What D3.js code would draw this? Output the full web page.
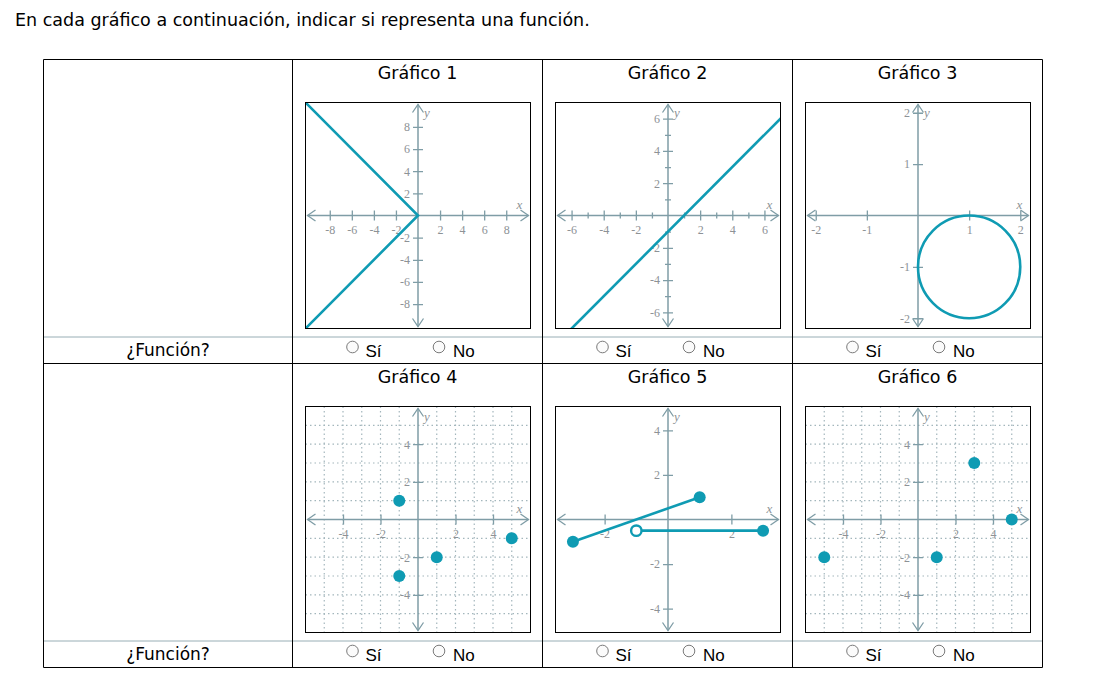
<!DOCTYPE html>
<html><head><meta charset="utf-8">
<script src="https://cdn.jsdelivr.net/npm/d3@7"></script>
<style>body{margin:0;background:#fff} svg{display:block}</style>
</head><body><svg id="c" width="1105" height="680"></svg>
<script>
// ---------- data ----------
const titleText = "En cada gráfico a continuación, indicar si representa una función.";
const graphTitles = ["Gráfico 1","Gráfico 2","Gráfico 3","Gráfico 4","Gráfico 5","Gráfico 6"];
const rowLabel = "¿Función?";
const optionLabels = ["Sí","No"];

const g1Domain = [-10.2, 10.2];
const g1Ticks = [-8,-6,-4,-2,2,4,6,8];
const g1Line = [[-11,11],[0,0],[-11,-11]];

const g2Domain = [-7, 7];
const g2Ticks = [-6,-4,-2,2,4,6];
const g2Minor = [-5,-3,-1,1,3,5];
const g2Line = [[-8,-9],[8,7]];

const g3Domain = [-2.2, 2.2];
const g3Ticks = [-2,-1,1,2];
const g3Circle = [1,-1,1]; // center x, center y, radius

const g4Domain = [-6, 6];
const g4Ticks = [-4,-2,2,4];
const g4Grid = [-5,-4,-3,-2,-1,1,2,3,4,5];
const g4Points = [[-1,1],[1,-2],[-1,-3],[5,-1]];

const g5XDomain = [-3.55, 3.55];
const g5YDomain = [-5.07, 5.07];
const g5XTicks = [-2,2];
const g5YTicks = [-4,-2,2,4];
const g5Segments = [[[-3,-1],[1,1]], [[-1,-0.5],[3,-0.5]]];
const g5Closed = [[-3,-1],[1,1],[3,-0.5]];
const g5Open = [[-1,-0.5]];

const g6Domain = [-6, 6];
const g6Ticks = [-4,-2,2,4];
const g6Grid = [-5,-4,-3,-2,-1,1,2,3,4,5];
const g6Points = [[-5,-2],[1,-2],[3,3],[5,0]];

// ---------- styles ----------
const TEAL = "#0f9bb3";
const AXIS = "#7f9da6";
const LABEL = "#8d9296";
const GRID = "#a3b6bc";
const SANS = "DejaVu Sans, Verdana, sans-serif";

const svg = d3.select("#c");

svg.append("text").attr("x",15).attr("y",26)
  .attr("font-family",SANS).attr("font-size",17.5)
  .attr("fill","#000").text(titleText);

// table
const cols = [43.5, 292.5, 542.5, 792.5, 1042.5];
const hBlack = [59.5, 363.5, 667.5];
const hGray = [337, 641];
hGray.forEach(yy => svg.append("line").attr("x1",cols[0]).attr("x2",cols[4]).attr("y1",yy).attr("y2",yy)
  .attr("stroke","#98aeb5").attr("stroke-width",1));
hBlack.forEach(yy => svg.append("line").attr("x1",cols[0]).attr("x2",cols[4]).attr("y1",yy).attr("y2",yy)
  .attr("stroke","#000").attr("stroke-width",1));
cols.forEach(xx => svg.append("line").attr("x1",xx).attr("x2",xx).attr("y1",hBlack[0]).attr("y2",hBlack[2])
  .attr("stroke","#000").attr("stroke-width",1));

const graphs = [
  {xDomain:g1Domain, yDomain:g1Domain, xTicks:g1Ticks, yTicks:g1Ticks, lines:[g1Line]},
  {xDomain:g2Domain, yDomain:g2Domain, xTicks:g2Ticks, yTicks:g2Ticks, minor:g2Minor, lines:[g2Line]},
  {xDomain:g3Domain, yDomain:g3Domain, xTicks:g3Ticks, yTicks:g3Ticks, circle:g3Circle},
  {xDomain:g4Domain, yDomain:g4Domain, xTicks:g4Ticks, yTicks:g4Ticks, grid:g4Grid, points:g4Points},
  {xDomain:g5XDomain, yDomain:g5YDomain, xTicks:g5XTicks, yTicks:g5YTicks, lines:g5Segments, points:g5Closed, open:g5Open},
  {xDomain:g6Domain, yDomain:g6Domain, xTicks:g6Ticks, yTicks:g6Ticks, grid:g6Grid, points:g6Points}
];

const rowTitleY = [79, 383];
const rowBoxTop = [102.5, 406.5];
const rowRadioY = [347, 651];

function styleAxis(sel, horizontal, long) {
  sel.select(".domain").remove();
  sel.selectAll(".tick line").attr("stroke",AXIS).attr("stroke-width",1.3);
  if (horizontal) sel.selectAll(".tick line").attr("y1",-long).attr("y2",long);
  else sel.selectAll(".tick line").attr("x1",-long).attr("x2",long);
  sel.selectAll(".tick text").attr("fill",LABEL)
    .attr("font-family","Liberation Serif, Times New Roman, serif").attr("font-size",12);
}

graphs.forEach((cfg, i) => {
  const r = Math.floor(i/3), c = i%3 + 1;
  const L = cols[c] + 13, T = rowBoxTop[r];
  const W = 225, H = 226;
  const cx = cols[c] + 125;
  svg.append("text").attr("x",cx).attr("y",rowTitleY[r]).attr("text-anchor","middle")
    .attr("font-family",SANS).attr("font-size",17.5).text(graphTitles[i]);

  const x = d3.scaleLinear().domain(cfg.xDomain).range([L, L+W]);
  const y = d3.scaleLinear().domain(cfg.yDomain).range([T+H, T]);
  const clipId = "clip"+i;
  svg.append("clipPath").attr("id",clipId).append("rect").attr("x",L).attr("y",T).attr("width",W).attr("height",H);
  const g = svg.append("g").attr("clip-path",`url(#${clipId})`);
  g.append("rect").attr("x",L).attr("y",T).attr("width",W).attr("height",H).attr("fill","#fff");

  if (cfg.grid) {
    g.selectAll(".gx").data(cfg.grid).join("line").attr("class","gx")
      .attr("x1",d=>x(d)).attr("x2",d=>x(d)).attr("y1",T).attr("y2",T+H)
      .attr("stroke",GRID).attr("stroke-width",1.2).attr("stroke-dasharray","1.5,3");
    g.selectAll(".gy").data(cfg.grid).join("line").attr("class","gy")
      .attr("y1",d=>y(d)).attr("y2",d=>y(d)).attr("x1",L).attr("x2",L+W)
      .attr("stroke",GRID).attr("stroke-width",1.2).attr("stroke-dasharray","1.5,3");
  }
  const ax = x(0), ay = y(0);
  g.append("line").attr("x1",L+2).attr("x2",L+W-2).attr("y1",ay).attr("y2",ay).attr("stroke",AXIS).attr("stroke-width",1.5);
  g.append("line").attr("y1",T+2).attr("y2",T+H-2).attr("x1",ax).attr("x2",ax).attr("stroke",AXIS).attr("stroke-width",1.5);
  const arrow = (p) => g.append("path").attr("d",p).attr("fill","none").attr("stroke",AXIS).attr("stroke-width",1.3);
  arrow(`M${L+10},${ay-5.5}L${L+2},${ay}L${L+10},${ay+5.5}`);
  arrow(`M${L+W-10},${ay-5.5}L${L+W-2},${ay}L${L+W-10},${ay+5.5}`);
  arrow(`M${ax-5.5},${T+10}L${ax},${T+2}L${ax+5.5},${T+10}`);
  arrow(`M${ax-5.5},${T+H-10}L${ax},${T+H-2}L${ax+5.5},${T+H-10}`);

  if (cfg.minor) {
    const mx = g.append("g").attr("transform",`translate(0,${ay})`)
      .call(d3.axisBottom(x).tickValues(cfg.minor).tickSize(3).tickFormat(""));
    styleAxis(mx, true, 3);
    const my = g.append("g").attr("transform",`translate(${ax},0)`)
      .call(d3.axisLeft(y).tickValues(cfg.minor).tickSize(3).tickFormat(""));
    styleAxis(my, false, 3);
  }
  const xa = g.append("g").attr("transform",`translate(0,${ay})`)
    .call(d3.axisBottom(x).tickValues(cfg.xTicks).tickSize(5).tickPadding(5).tickFormat(d=>String(d)));
  styleAxis(xa, true, 5);
  const ya = g.append("g").attr("transform",`translate(${ax},0)`)
    .call(d3.axisLeft(y).tickValues(cfg.yTicks).tickSize(5).tickPadding(3).tickFormat(d=>String(d)));
  styleAxis(ya, false, 5);

  g.append("text").attr("x",L+W-11).attr("y",ay-7).attr("text-anchor","middle")
    .attr("font-family","Liberation Serif, serif").attr("font-style","italic").attr("font-size",13)
    .attr("fill",LABEL).text("x");
  g.append("text").attr("x",ax+9).attr("y",T+14).attr("text-anchor","middle")
    .attr("font-family","Liberation Serif, serif").attr("font-style","italic").attr("font-size",13)
    .attr("fill",LABEL).text("y");

  const lineGen = d3.line().x(d=>x(d[0])).y(d=>y(d[1]));
  (cfg.lines||[]).forEach(ln => g.append("path").attr("d",lineGen(ln)).attr("fill","none")
    .attr("stroke",TEAL).attr("stroke-width",2.6));
  if (cfg.circle) {
    const [ccx, ccy, rr] = cfg.circle;
    g.append("ellipse").attr("cx",x(ccx)).attr("cy",y(ccy))
      .attr("rx",x(ccx+rr)-x(ccx)).attr("ry",y(ccy-rr)-y(ccy))
      .attr("fill","none").attr("stroke",TEAL).attr("stroke-width",2.6);
  }
  if (cfg.points) g.selectAll(".pt").data(cfg.points).join("circle").attr("class","pt")
    .attr("cx",d=>x(d[0])).attr("cy",d=>y(d[1])).attr("r",6).attr("fill",TEAL);
  if (cfg.open) g.selectAll(".op").data(cfg.open).join("circle").attr("class","op")
    .attr("cx",d=>x(d[0])).attr("cy",d=>y(d[1])).attr("r",5.2).attr("fill","#fff")
    .attr("stroke",TEAL).attr("stroke-width",2.4);

  svg.append("rect").attr("x",L).attr("y",T).attr("width",W).attr("height",H)
    .attr("fill","none").attr("stroke","#000").attr("stroke-width",1);
});

// row labels + radios
[0,1].forEach(r => {
  const cy = rowRadioY[r];
  svg.append("text").attr("x",(cols[0]+cols[1])/2).attr("y",cy+8.5).attr("text-anchor","middle")
    .attr("font-family",SANS).attr("font-size",17).text(rowLabel);
  [1,2,3].forEach(c => {
    const offs = [[60, 73],[146.5, 160.5]];
    optionLabels.forEach((lab, k) => {
      svg.append("circle").attr("cx",cols[c]+offs[k][0]).attr("cy",cy).attr("r",5.8)
        .attr("fill","#fbfbfb").attr("stroke","#7a7a7a").attr("stroke-width",1);
      svg.append("text").attr("x",cols[c]+offs[k][1]).attr("y",cy+10)
        .attr("font-family","Liberation Sans, Arial, sans-serif").attr("font-size",17).text(lab);
    });
  });
});
</script></body></html>
